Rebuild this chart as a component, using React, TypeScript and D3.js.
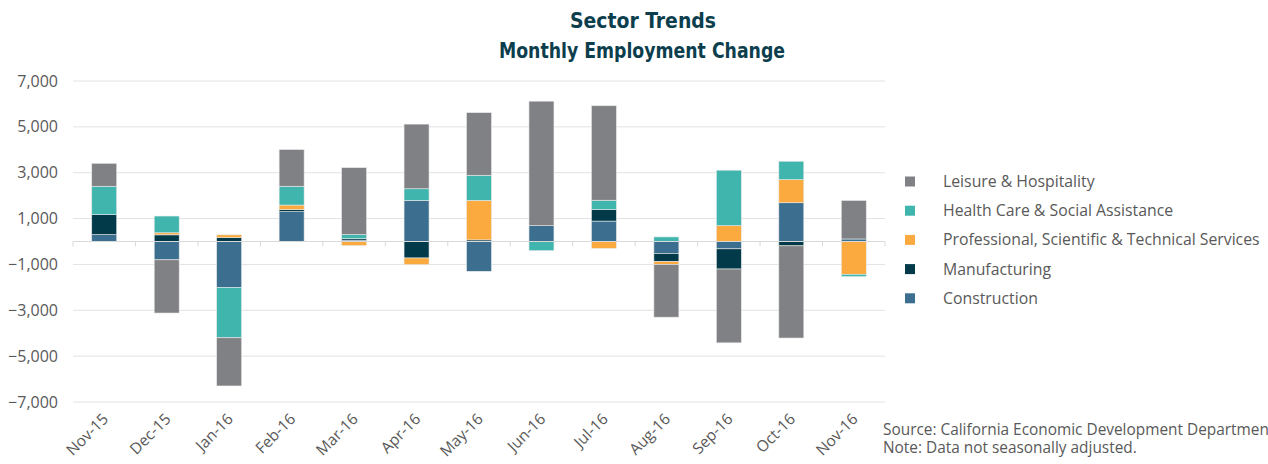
import React from "react";
import * as d3 from "d3";

const months = ["Nov-15","Dec-15","Jan-16","Feb-16","Mar-16","Apr-16","May-16","Jun-16","Jul-16","Aug-16","Sep-16","Oct-16","Nov-16"];
const construction = [300, -800, -2000, 1300, 60, 1790, -1300, 690, 890, -520, -320, 1690, 110];
const manufacturing = [870, 290, 170, 90, 70, -720, 70, 0, 500, -360, -880, -190, 0];
const professional = [0, 90, 120, 200, -180, -290, 1720, 0, -300, -120, 690, 1010, -1430];
const healthCare = [1240, 730, -2200, 820, 170, 510, 1100, -400, 410, 200, 2420, 800, -100];
const leisure = [1000, -2320, -2100, 1600, 2920, 2820, 2730, 5430, 4120, -2300, -3220, -4020, 1680];
const yTicks = [-7000, -5000, -3000, -1000, 1000, 3000, 5000, 7000];

const seriesNames = ["Construction", "Manufacturing", "Professional, Scientific & Technical Services", "Health Care & Social Assistance", "Leisure & Hospitality"];
const seriesValues = [construction, manufacturing, professional, healthCare, leisure];
const seriesColors = ["#3b6e8f", "#023a4a", "#fbaa40", "#3fb5ad", "#808184"];

export default function App() {
  const W = 1268, H = 464;
  const x = d3.scaleBand<string>().domain(months).range([73, 885]).paddingInner(0.6).paddingOuter(0.3);
  const y = d3.scaleLinear().domain([-7000, 7000]).range([402, 81]);
  const step = x.step();
  const x0 = 73;

  const segs: { key: string; i: number; y0: number; y1: number; color: string }[] = [];
  months.forEach((m, mi) => {
    let pos = 0, neg = 0;
    seriesValues.forEach((vals, si) => {
      const v = vals[mi];
      if (v === 0) return;
      if (v > 0) { segs.push({ key: m, i: si, y0: pos, y1: pos + v, color: seriesColors[si] }); pos += v; }
      else { segs.push({ key: m, i: si, y0: neg + v, y1: neg, color: seriesColors[si] }); neg += v; }
    });
  });

  const legendOrder = [4, 3, 2, 1, 0];
  const fontAxis = "'Open Sans', sans-serif";
  const titleFont = "'Liberation Sans Narrow', 'DejaVu Sans Condensed', 'Open Sans', sans-serif";
  const grey = "#595959";

  return (
    <svg width={W} height={H} style={{ position: "absolute", left: 0, top: 0, background: "#fff" }}>
      <text x={643} y={28} textAnchor="middle" fontFamily={titleFont} fontWeight="bold" fontSize={22} fill="#0c3e4d" textLength={146} lengthAdjust="spacingAndGlyphs">Sector Trends</text>
      <text x={642} y={58} textAnchor="middle" fontFamily={titleFont} fontWeight="bold" fontSize={22} fill="#0c3e4d" textLength={286} lengthAdjust="spacingAndGlyphs">Monthly Employment Change</text>

      {yTicks.map(t => (
        <g key={t}>
          <line x1={73} x2={885} y1={y(t)} y2={y(t)} stroke="#e2e2e2" strokeWidth={1} />
          <text x={58} y={y(t) + 5.5} textAnchor="end" fontFamily={fontAxis} fontSize={16} fill={grey}>{d3.format(",")(t)}</text>
        </g>
      ))}

      {segs.map((s, k) => (
        <rect key={k} x={x(s.key)!} width={x.bandwidth()} y={y(s.y1)} height={y(s.y0) - y(s.y1)} fill={s.color} stroke="#e9e9e9" strokeWidth={0.6} />
      ))}

      <line x1={73} x2={885} y1={y(0)} y2={y(0)} stroke="#d9d9d9" strokeWidth={1.2} />
      {d3.range(months.length + 1).map(i => (
        <line key={i} x1={x0 + i * step} x2={x0 + i * step} y1={y(0)} y2={y(0) + 5} stroke="#d9d9d9" strokeWidth={1} />
      ))}

      {months.map(m => {
        const cx = x(m)! + x.bandwidth() / 2 + 5;
        const cy = 420;
        return (
          <text key={m} x={cx} y={cy} textAnchor="end" transform={`rotate(-45 ${cx} ${cy})`} fontFamily={fontAxis} fontSize={15.5} fill={grey}>{m}</text>
        );
      })}

      {legendOrder.map((si, r) => {
        const cy = 181.5 + r * 29.2;
        return (
          <g key={si}>
            <rect x={905} y={cy - 5} width={10} height={10} fill={seriesColors[si]} />
            <text x={943} y={cy + 5.5} fontFamily={fontAxis} fontSize={15.8} fill={grey}>{seriesNames[si]}</text>
          </g>
        );
      })}

      <text x={883} y={435} fontFamily={fontAxis} fontSize={15.4} fill={grey}>Source: California Economic Development Department</text>
      <text x={883} y={453} fontFamily={fontAxis} fontSize={15.4} fill={grey}>Note: Data not seasonally adjusted.</text>
    </svg>
  );
}
